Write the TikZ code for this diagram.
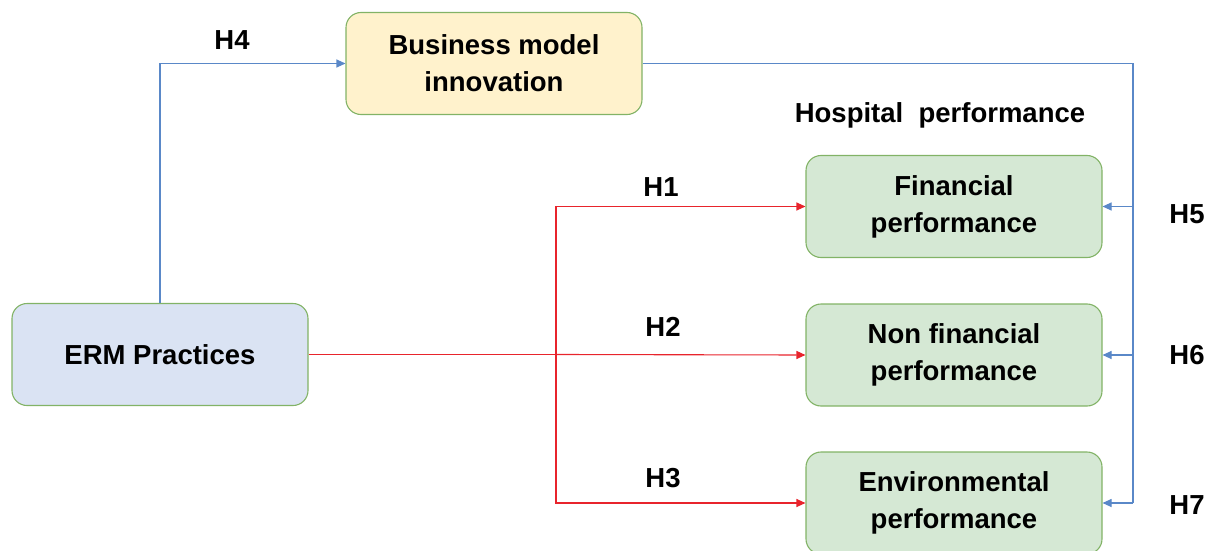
\documentclass[tikz,border=0pt]{standalone}
\usepackage{fontspec}
\setmainfont{Liberation Sans}
\usetikzlibrary{arrows.meta}
\definecolor{boxline}{HTML}{82B366}
\definecolor{ermfill}{HTML}{DAE3F3}
\definecolor{bmifill}{HTML}{FFF2CC}
\definecolor{perffill}{HTML}{D5E8D4}
\definecolor{redline}{HTML}{E8242C}
\definecolor{blueline}{HTML}{5A88C8}
\begin{document}
\begin{tikzpicture}[x=1pt,y=-1pt,
  box/.style={draw=boxline, line width=1.1pt, rounded corners=15pt,
    minimum width=296pt, minimum height=102pt, align=center,
    font=\fontsize{27.5}{37}\selectfont\bfseries, inner sep=0pt},
  lbl/.style={font=\fontsize{27.5}{33}\selectfont\bfseries, inner sep=0pt},
  redarr/.style={draw=redline, line width=1.1pt, -{Triangle[length=9pt,width=8pt]}},
  bluearr/.style={draw=blueline, line width=1.1pt, -{Triangle[length=9pt,width=8pt]}}
]
\useasboundingbox (0,0) rectangle (1207,551);

\node[box, fill=bmifill] (bmi) at (494,63.5) {Business model\\innovation};
\node[box, fill=ermfill] (erm) at (160,354.5) {ERM Practices};
\node[box, fill=perffill] (fin) at (954,206.5) {Financial\\performance};
\node[box, fill=perffill] (non) at (954,355) {Non financial\\performance};
\node[box, fill=perffill] (env) at (954,503) {Environmental\\performance};

\node[lbl] (hosp) at (940,115) {Hospital\ \ performance};
\node[lbl] (h1) at (661,187) {H1};
\node[lbl] (h2) at (663,327) {H2};
\node[lbl] (h3) at (663,478) {H3};
\node[lbl] (h4) at (232,40) {H4};
\node[lbl] (h5) at (1187,214) {H5};
\node[lbl] (h6) at (1187,355) {H6};
\node[lbl] (h7) at (1187,505) {H7};

% ERM practices to business model innovation
\draw[bluearr] (erm.north) |- (bmi.west);

% ERM practices to the three performance dimensions
\coordinate (split) at (556,354.5);
\draw[draw=redline, line width=1.1pt] (erm.east) -- (split);
\draw[redarr] (split) |- (fin.west);
\draw[redarr] (split) -- (non.west);
\draw[redarr] (split) |- (env.west);

% business model innovation to the three performance dimensions
\coordinate (rail) at (1133,63.5);
\draw[draw=blueline, line width=1.1pt] (bmi.east) -- (rail) -- (1133,503);
\draw[bluearr] (1133,206.5) -- (fin.east);
\draw[bluearr] (1133,355) -- (non.east);
\draw[bluearr] (1133,503) -- (env.east);
\end{tikzpicture}
\end{document}
